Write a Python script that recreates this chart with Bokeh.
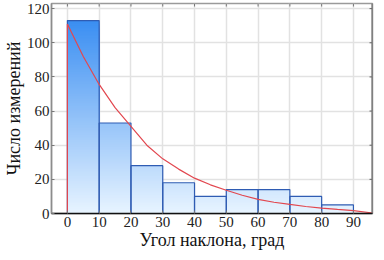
import math
from bokeh.plotting import figure
from bokeh.models import FixedTicker, Range1d, Span
from bokeh.embed import file_html
from bokeh.resources import INLINE

# Data
bin_left = [0, 10, 20, 30, 40, 50, 60, 70, 80]
bin_right = [10, 20, 30, 40, 50, 60, 70, 80, 90]
counts = [113, 53, 28, 18, 10, 14, 14, 10, 5]

fit_x = [0, 5, 10, 15, 20, 25, 30, 35, 40, 45, 50, 55, 60, 65, 70, 75, 80, 85, 90, 96]
fit_y = [111, 92, 75.6, 62, 51, 40, 32, 26, 20.7, 16.8, 13.6, 10.7, 8.3, 6.6, 5.3, 4.1, 3.2, 2.4, 1.7, 0.3]

x_ticks = [0, 10, 20, 30, 40, 50, 60, 70, 80, 90]
y_ticks = [0, 20, 40, 60, 80, 100, 120]

X_MIN, X_MAX = -5, 96
Y_MIN, Y_MAX = 0, 123

FONT = "Liberation Serif"

p = figure(width=376, height=252, output_backend="svg", toolbar_location=None,
           x_range=Range1d(X_MIN, X_MAX), y_range=Range1d(Y_MIN, Y_MAX),
           min_border_left=48, min_border_right=4, min_border_top=3, min_border_bottom=38)

p.background_fill_color = "white"
p.outline_line_color = "#9a9a9a"
p.outline_line_width = 1.5

# Gradient fill simulated by overlapping quads (tallest first), coloured by height
top_c = (58, 142, 242)
bot_c = (232, 244, 255)
vmax = max(counts)
sl, sr, sb, st, sc = [], [], [], [], []
step = 1.0
for l, r, c in zip(bin_left, bin_right, counts):
    levels = []
    y = 0.0
    while y < c:
        y2 = min(y + step, c)
        levels.append((y, y2))
        y = y2
    for (y1, y2) in reversed(levels):
        t = ((y1 + y2) / 2) / vmax
        col = tuple(int(round(bot_c[i] + (top_c[i] - bot_c[i]) * t)) for i in range(3))
        sl.append(l); sr.append(r); sb.append(0); st.append(y2)
        sc.append("#%02x%02x%02x" % col)
p.quad(left=sl, right=sr, bottom=sb, top=st, fill_color=sc, line_color=None)

# Bar outlines
p.quad(left=bin_left, right=bin_right, bottom=[0] * len(counts), top=counts,
       fill_color=None, line_color="#2f5cb3", line_width=1.2)

# Fitted curve
p.line(fit_x, fit_y, line_color="#e2474f", line_width=1.2)
p.segment(x0=[fit_x[0]], y0=[0], x1=[fit_x[0]], y1=[fit_y[0]], line_color="#e2474f", line_width=1.2)

# Grid
p.xgrid.ticker = FixedTicker(ticks=x_ticks)
p.ygrid.ticker = FixedTicker(ticks=y_ticks)
p.grid.grid_line_color = "#e2e2e2"
p.grid.grid_line_width = 1.5
p.grid.level = "underlay"

# Axes
p.xaxis.ticker = FixedTicker(ticks=x_ticks)
p.yaxis.ticker = FixedTicker(ticks=y_ticks)
for ax in (p.xaxis[0], p.yaxis[0]):
    ax.major_label_text_font = FONT
    ax.major_label_text_font_size = "15px"
    ax.major_label_text_color = "#222222"
    ax.axis_label_text_font = FONT
    ax.axis_label_text_font_size = "18px"
    ax.axis_label_text_font_style = "normal"
    ax.axis_label_text_color = "#111111"
    ax.minor_tick_line_color = None
    ax.major_tick_in = 3
    ax.major_tick_out = 0
    ax.major_tick_line_color = "#777777"

p.xaxis.axis_label = "Угол наклона, град"
p.yaxis.axis_label = "Число измерений"
p.xaxis.axis_line_color = "#111111"
p.xaxis.axis_line_width = 1.5
p.yaxis.axis_line_color = "#8c8c8c"
p.yaxis.axis_line_width = 1.5
p.xaxis.major_label_standoff = 3
p.yaxis.major_label_standoff = 2
p.xaxis.axis_label_standoff = 0
p.yaxis.axis_label_standoff = 0

# Right border (darker) and tick marks on the top and right edges
p.add_layout(Span(location=X_MAX, dimension="height", line_color="#666666", line_width=2))
p.ray(x=x_ticks, y=[Y_MAX] * len(x_ticks), length=3, length_units="screen",
      angle=-math.pi / 2, line_color="#777777", line_width=1)
p.ray(x=[X_MAX] * len(y_ticks), y=y_ticks, length=3, length_units="screen",
      angle=math.pi, line_color="#666666", line_width=1)

open("out.html", "w").write(file_html(p, INLINE))
